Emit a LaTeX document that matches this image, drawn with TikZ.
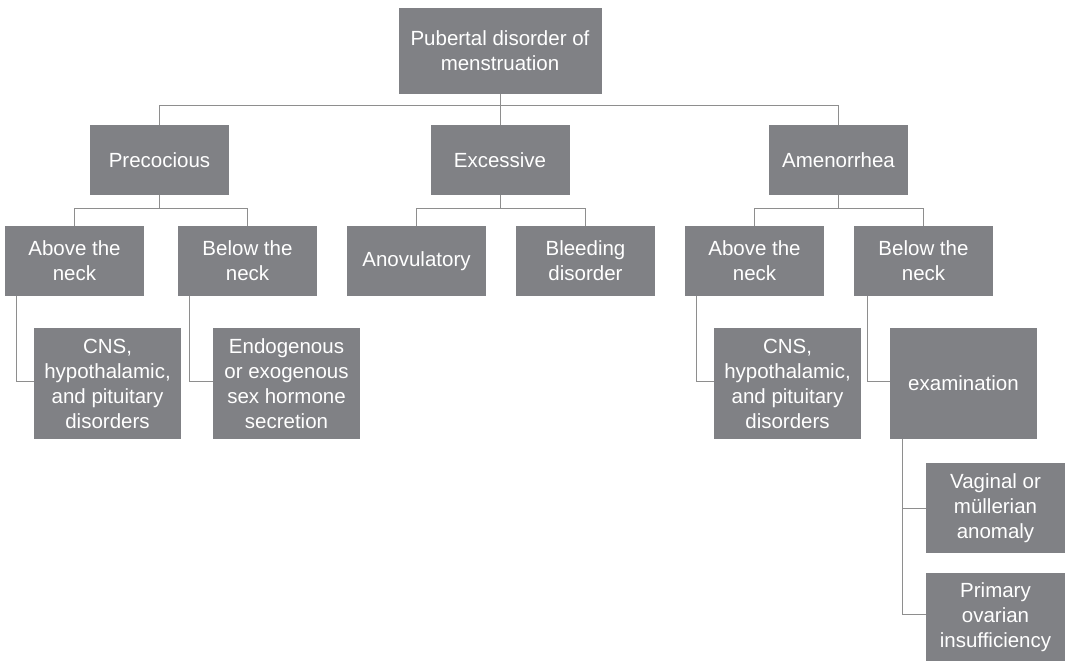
\documentclass[tikz,border=0pt]{standalone}
\usepackage{fontspec}
\setmainfont{Liberation Sans}
\usetikzlibrary{calc}
\definecolor{BoxGray}{HTML}{808185}
\definecolor{LineGray}{HTML}{8E8E8E}
\tikzset{
  catbox/.style={rectangle,fill=BoxGray,text=white,inner sep=0pt,align=center,
    font=\fontsize{20.5}{25}\selectfont,minimum width=139pt,minimum height=70pt},
  wide/.style={minimum width=147pt,minimum height=111pt},
  link/.style={draw=LineGray,line width=0.9pt}
}
\begin{document}
\begin{tikzpicture}[x=1pt,y=-1pt]
        \useasboundingbox (0,0) rectangle (1065,661);
        \node[catbox,minimum width=203pt,minimum height=86pt] (root) at (500,51) {Pubertal disorder of\\menstruation};
        \node[catbox] (prec) at (159.5,160) {Precocious};
        \node[catbox] (exc) at (500,160) {Excessive};
        \node[catbox] (amen) at (838.5,160) {Amenorrhea};
        \node[catbox] (pan) at (74.5,261) {Above the\\neck};
        \node[catbox] (pbn) at (247.5,261) {Below the\\neck};
        \node[catbox] (anov) at (416.5,261) {Anovulatory};
        \node[catbox] (bleed) at (585.5,261) {Bleeding\\disorder};
        \node[catbox] (aan) at (754.5,261) {Above the\\neck};
        \node[catbox] (abn) at (923.5,261) {Below the\\neck};
        \node[catbox,wide] (pcns) at (107.5,383.5) {CNS,\\hypothalamic,\\and pituitary\\disorders};
        \node[catbox,wide] (psex) at (286.5,383.5) {Endogenous\\or exogenous\\sex hormone\\secretion};
        \node[catbox,wide] (acns) at (787.5,383.5) {CNS,\\hypothalamic,\\and pituitary\\disorders};
        \node[catbox,wide] (exam) at (963.5,383.5) {examination};
        \node[catbox,minimum height=90pt] (vag) at (995.5,508) {Vaginal or\\müllerian\\anomaly};
        \node[catbox,minimum height=88pt] (poi) at (995.5,617) {Primary\\ovarian\\insufficiency};
        \draw[link] (root) -- (exc);
        \draw[link] (prec.north) -- ++(0,-19) -| (amen.north);
        \draw[link] (prec) -- ++(0,49);
        \draw[link] (pan.north) -- ++(0,-17) -| (pbn.north);
        \draw[link] (exc) -- ++(0,49);
        \draw[link] (anov.north) -- ++(0,-17) -| (bleed.north);
        \draw[link] (amen) -- ++(0,49);
        \draw[link] (aan.north) -- ++(0,-17) -| (abn.north);
        \draw[link] ([xshift=12pt]pan.south west) |- ([yshift=2pt]pcns.west);
        \draw[link] ([xshift=12pt]pbn.south west) |- ([yshift=2pt]psex.west);
        \draw[link] ([xshift=12pt]aan.south west) |- ([yshift=2pt]acns.west);
        \draw[link] ([xshift=14pt]abn.south west) |- ([yshift=2pt]exam.west);
        \draw[link] ([xshift=13pt]exam.south west) |- (vag.west);
        \draw[link] ([xshift=13pt]exam.south west) |- ([yshift=3pt]poi.west);
\end{tikzpicture}
\end{document}
